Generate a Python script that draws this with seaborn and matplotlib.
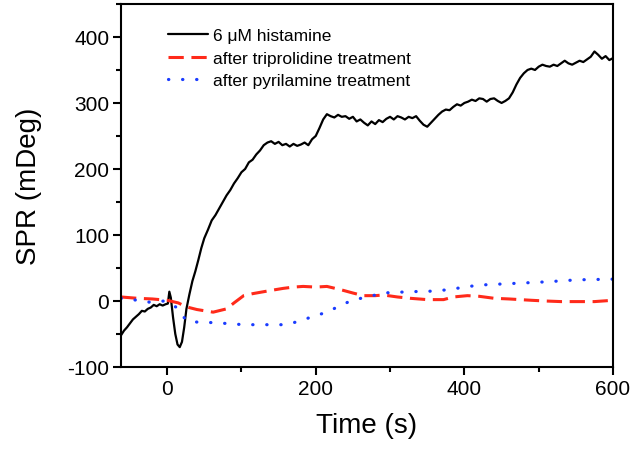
import matplotlib
matplotlib.use("Agg")
import matplotlib.pyplot as plt
import seaborn as sns
from matplotlib.ticker import MultipleLocator

# 6 uM histamine trace (time s, SPR mDeg)
hist_t = [-62, -58, -54, -50, -46, -42, -38, -34, -30, -26, -22, -18, -14, -10, -6, -2,
          1, 3, 5, 8, 11, 14, 17, 20, 23, 26, 30, 34, 38, 42, 46, 50, 55, 60, 65, 70, 75,
          80, 85, 90, 95, 100, 105, 110, 115, 120, 125, 130, 135, 140, 145, 150, 155, 160,
          165, 170, 175, 180, 185, 190, 195, 200, 205, 210, 215, 220, 225, 230, 235, 240,
          245, 250, 255, 260, 265, 270, 275, 280, 285, 290, 295, 300, 305, 310, 315, 320,
          325, 330, 335, 340, 345, 350, 355, 360, 365, 370, 375, 380, 385, 390, 395, 400,
          405, 410, 415, 420, 425, 430, 435, 440, 445, 450, 455, 460, 465, 470, 475, 480,
          485, 490, 495, 500, 505, 510, 515, 520, 525, 530, 535, 540, 545, 550, 555, 560,
          565, 570, 575, 580, 585, 590, 595, 600]
hist_v = [-52, -45, -40, -34, -28, -24, -20, -15, -16, -12, -10, -6, -8, -5, -7, -5,
          -4, 14, 5, -25, -50, -66, -70, -62, -40, -12, 10, 30, 45, 62, 80, 95, 108, 122, 130,
          140, 150, 160, 168, 178, 186, 195, 200, 210, 214, 222, 228, 236, 240, 242, 238, 241,
          236, 238, 234, 238, 235, 237, 240, 236, 245, 250, 262, 275, 283, 280, 278, 282, 279,
          280, 276, 279, 272, 275, 270, 266, 272, 268, 274, 271, 276, 279, 275, 280, 278, 275,
          279, 277, 280, 273, 267, 264, 270, 276, 282, 287, 290, 289, 294, 298, 296, 300, 302,
          305, 303, 307, 306, 302, 306, 307, 303, 300, 303, 307, 316, 328, 338, 345, 350, 352,
          350, 355, 358, 356, 355, 358, 356, 360, 364, 360, 358, 361, 364, 362, 366, 370, 378,
          373, 367, 371, 365, 368]

# after triprolidine treatment
trip_t = [-62, -40, -20, 0, 15, 26, 40, 62, 80, 90, 103, 115, 125, 140, 156, 170, 183, 200,
          215, 230, 237, 250, 264, 280, 291, 310, 327, 350, 372, 385, 404, 420, 440, 460, 475,
          490, 507, 530, 552, 575, 600]
trip_v = [6, 4, 3, 1, -3, -9, -13, -17, -12, -3, 8, 11, 13, 16, 19, 21, 22, 21, 22, 18, 16,
          12, 8, 8, 9, 6, 4, 2, 2, 6, 8, 7, 4, 3, 2, 1, 0, -1, -1, -1, 1]

# after pyrilamine treatment
pyri_t = [-62, -40, -23, -3, 13, 26, 40, 65, 103, 130, 159, 177, 195, 215, 233, 251, 271,
          289, 327, 363, 383, 419, 475, 511, 552, 600]
pyri_v = [4, 1, -2, 0, -10, -30, -32, -33, -36, -36, -36, -31, -24, -17, -7, 2, 6, 12, 14,
          15, 18, 24, 27, 29, 32, 33]

sns.set_style("ticks", {'axes.edgecolor': 'black', 'text.color': 'black',
                        'xtick.color': 'black', 'ytick.color': 'black',
                        'axes.labelcolor': 'black'})
plt.rcParams['font.family'] = ['Liberation Sans', 'DejaVu Sans']
plt.rcParams['axes.unicode_minus'] = False

fig = plt.figure(figsize=(6.32, 4.52), dpi=100)
ax = fig.add_axes([0.1915, 0.186, 0.7785, 0.803])

sns.lineplot(x=hist_t, y=hist_v, ax=ax, color='black', lw=1.6, sort=False,
             estimator=None, label='6 \u03bcM histamine')
sns.lineplot(x=trip_t, y=trip_v, ax=ax, color='#ff2a1a', lw=2.2, sort=False,
             estimator=None, linestyle=(0, (5, 2.5)), label='after triprolidine treatment')
sns.lineplot(x=pyri_t, y=pyri_v, ax=ax, color='#1a3cff', lw=2.3, sort=False,
             estimator=None, linestyle=(0, (0.1, 4.3)), dash_capstyle='round',
             label='after pyrilamine treatment')

ax.set_xlim(-62, 600)
ax.set_ylim(-100, 450)
ax.xaxis.set_major_locator(MultipleLocator(200))
ax.xaxis.set_minor_locator(MultipleLocator(100))
ax.yaxis.set_major_locator(MultipleLocator(100))
ax.yaxis.set_minor_locator(MultipleLocator(50))
ax.tick_params(which='major', length=5.5, width=1.5, labelsize=15, direction='out', pad=3)
ax.tick_params(which='minor', length=3.6, width=1.5, direction='out')
for s in ax.spines.values():
    s.set_linewidth(1.5)

ax.set_xlabel('Time (s)', fontsize=20, labelpad=10)
ax.set_ylabel('SPR (mDeg)', fontsize=20, labelpad=18)

ax.legend(loc='upper left', bbox_to_anchor=(0.0955, 0.933), frameon=False, fontsize=12.5,
          handlelength=2.3, handletextpad=0.3, labelspacing=0.41, borderpad=0,
          borderaxespad=0)

fig.savefig('out.png', dpi=100)
